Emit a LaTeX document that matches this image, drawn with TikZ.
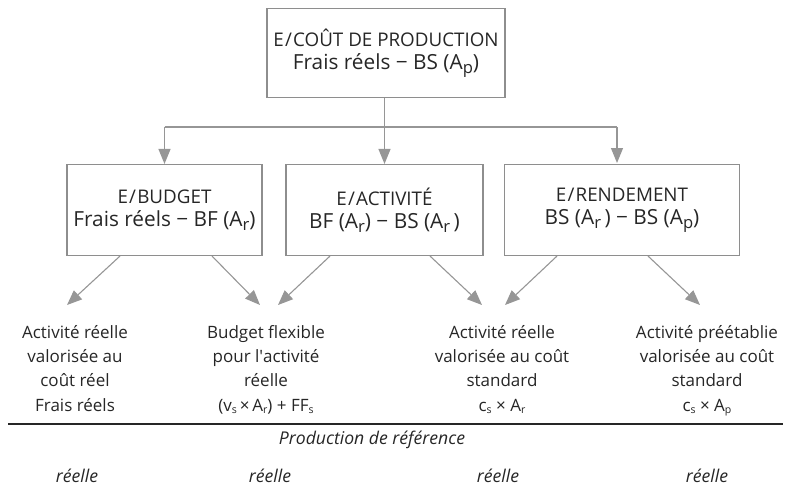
\documentclass[tikz,border=0pt]{standalone}
\usepackage{fontspec}
\setmainfont{Open Sans}
\usetikzlibrary{arrows.meta}
\definecolor{gline}{HTML}{969696}
\definecolor{gbox}{HTML}{8E8E8E}
\definecolor{txt}{HTML}{262626}
\newcommand\bsub[1]{\raisebox{-0.35ex}{\scalebox{0.8}{#1}}}
\newcommand\ssub[1]{\raisebox{-0.3ex}{\scalebox{0.62}{#1}}}
\newcommand\myslash{\kern1.2pt/\kern1.2pt}
\tikzset{
  box/.style={draw=gbox, line width=1.1pt, align=center, text=txt, inner sep=0pt,
    font=\fontsize{18.8}{23.5}\selectfont},
  conn/.style={draw=gline, line width=1.1pt},
  arr/.style={conn, -{Triangle[length=15pt,width=12pt]}},
  col/.style={align=center, text=txt, inner sep=0pt, anchor=north,
    font=\fontsize{17}{24.3}\selectfont},
  lab/.style={text=txt, inner sep=0pt, anchor=base, font=\fontsize{17.6}{20}\selectfont\itshape}
}
\newcommand\two[1]{{\fontsize{20.8}{24}\selectfont #1}}
\begin{document}
\begin{tikzpicture}[x=1pt,y=-1pt]
\useasboundingbox (0,0) rectangle (791,487);
% boxes
\node[box, minimum width=238pt, minimum height=89pt] (top) at (386,53)
  {E\myslash COÛT DE PRODUCTION\\\two{Frais réels − BS (A\bsub{p})}};
\node[box, minimum width=195pt, minimum height=91pt] (bud) at (164.5,210)
  {E\myslash BUDGET\\\two{Frais réels − BF (A\bsub{r})}};
\node[box, minimum width=197pt, minimum height=91pt] (act) at (384.5,210)
  {E\myslash ACTIVITÉ\\\two{BF (A\bsub{r}) − BS (A\bsub{r}\,)}};
\node[box, minimum width=235pt, minimum height=91pt] (ren) at (622,210)
  {E\myslash RENDEMENT\\\two{BS (A\bsub{r}\,) − BS (A\bsub{p})}};
% level line
\coordinate (lvl) at (0,127);
\coordinate (rtip) at (617,163);
\draw[arr] (top.south -| act.north) -- (act.north);
\draw[conn] (bud.north |- lvl) -- (rtip |- lvl);
\draw[arr] (bud.north |- lvl) -- (bud.north);
\draw[arr] (rtip |- lvl) -- (rtip);
% bottom texts
\node[col] (c1) at (75,325) {Activité réelle\\valorisée au\\coût réel\\Frais réels};
\node[col] (c2) at (266,325) {Budget flexible\\pour l\textquotesingle activité\\réelle\\(v\ssub{s}\,×\,A\ssub{r}) + FF\ssub{s}};
\node[col] (c3) at (502,325) {Activité réelle\\valorisée au coût\\standard\\c\ssub{s} × A\ssub{r}};
\node[col] (c4) at (707,325) {Activité préétablie\\valorisée au coût\\standard\\c\ssub{s} × A\ssub{p}};
% arrow tips
\coordinate (t1) at (67,305);
\coordinate (t2a) at (260,305);
\coordinate (t2b) at (278,305);
\coordinate (t3a) at (482,305);
\coordinate (t3b) at (505,305);
\coordinate (t4) at (700,305);
\draw[arr] ([xshift=-44.5pt]bud.south) -- (t1);
\draw[arr] ([xshift=47.5pt]bud.south) -- (t2a);
\draw[arr] ([xshift=-54.5pt]act.south) -- (t2b);
\draw[arr] ([xshift=45.5pt]act.south) -- (t3a);
\draw[arr] ([xshift=-65pt]ren.south) -- (t3b);
\draw[arr] ([xshift=26pt]ren.south) -- (t4);
% rule
\coordinate (ll) at (8,424);
\coordinate (lr) at (783,424);
\draw[line width=1.3pt, black!85] (ll) -- (lr);
\node[lab] (prod) at (372,444) {Production de référence};
\node[lab] (r1) at (77,482) {réelle};
\node[lab] (r2) at (270,482) {réelle};
\node[lab] (r3) at (498,482) {réelle};
\node[lab] (r4) at (707,482) {réelle};
\end{tikzpicture}
\end{document}
